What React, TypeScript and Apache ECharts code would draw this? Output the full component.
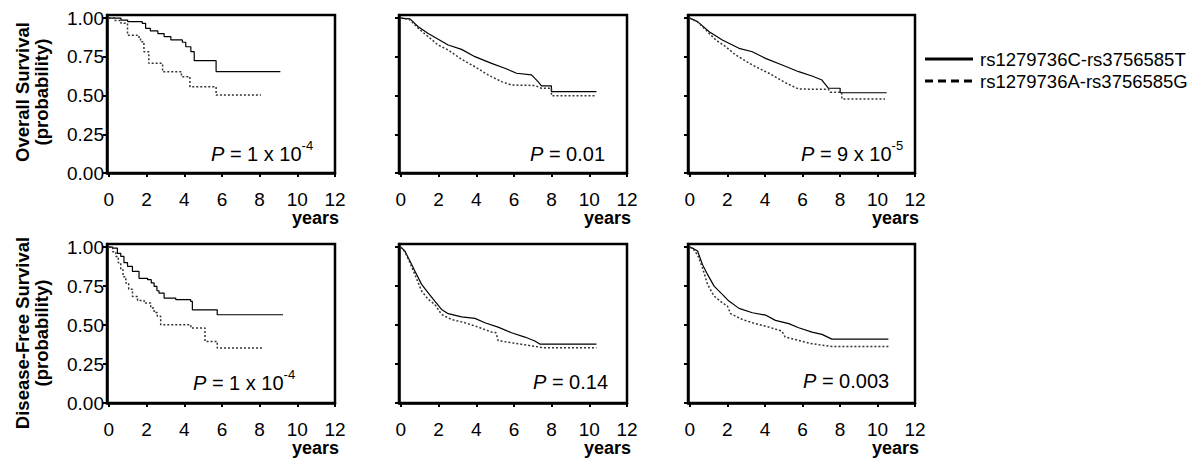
import React, { useEffect, useRef } from 'react';
import * as echarts from 'echarts';

// ---- data ----
const xTicks = [0, 2, 4, 6, 8, 10, 12];
const yTicks = [0, 0.25, 0.5, 0.75, 1.0];
const rowTitles = ['Overall Survival', 'Disease-Free Survival'];
const yUnit = '(probability)';
const xUnit = 'years';
const legendNames = ['rs1279736C-rs3756585T', 'rs1279736A-rs3756585G'];
const pMain = ['1 x 10', '0.01', '9 x 10', '1 x 10', '0.14', '0.003'];
const pExp = ['-4', '', '-5', '-4', '', ''];

// Overall survival, panel 1 (stepped Kaplan-Meier events: [years, probability])
const os1CT = [[0, 1], [0.64, 0.987], [1.0, 0.977], [1.77, 0.966], [1.95, 0.934], [2.2, 0.917], [2.6, 0.9], [2.93, 0.88], [3.29, 0.859], [3.9, 0.844], [4.08, 0.815], [4.35, 0.783], [4.53, 0.725], [5.69, 0.655], [9.1, 0.655]];
const os1AG = [[0, 1], [0.3, 0.985], [0.64, 0.966], [0.99, 0.89], [1.5, 0.878], [1.68, 0.848], [1.86, 0.783], [2.12, 0.708], [2.85, 0.654], [3.85, 0.622], [4.3, 0.557], [5.69, 0.503], [8.07, 0.503]];
// Overall survival, panel 2
const os2CT = [[0, 1], [0.48, 0.995], [0.92, 0.944], [1.45, 0.9], [1.98, 0.863], [2.51, 0.826], [3.22, 0.798], [3.93, 0.751], [4.81, 0.708], [5.52, 0.676], [6.14, 0.644], [6.93, 0.633], [7.28, 0.59], [7.46, 0.562], [7.99, 0.562], [7.99, 0.525], [10.38, 0.525]];
const os2AG = [[0, 1], [0.48, 0.99], [0.92, 0.934], [1.45, 0.88], [1.98, 0.826], [2.51, 0.794], [3.22, 0.734], [3.93, 0.686], [4.63, 0.633], [5.34, 0.59], [5.87, 0.568], [7.1, 0.565], [7.46, 0.547], [7.99, 0.547], [7.99, 0.499], [10.38, 0.499]];
// Overall survival, panel 3
const os3CT = [[0, 1], [0.41, 0.977], [1.03, 0.912], [1.73, 0.859], [2.62, 0.805], [3.33, 0.783], [4.03, 0.74], [4.92, 0.697], [5.8, 0.654], [6.51, 0.626], [7.04, 0.6], [7.39, 0.547], [8.01, 0.547], [8.01, 0.518], [10.49, 0.518]];
const os3AG = [[0, 1], [0.41, 0.975], [0.85, 0.923], [1.38, 0.859], [1.91, 0.815], [2.44, 0.762], [3.33, 0.697], [4.21, 0.644], [5.09, 0.583], [5.8, 0.542], [7.39, 0.54], [7.48, 0.521], [8.1, 0.521], [8.1, 0.478], [10.4, 0.478]];
// Disease-free survival, panel 4 (stepped)
const dfs1CT = [[0, 1], [0.2, 0.994], [0.45, 0.96], [0.63, 0.94], [0.8, 0.9], [0.99, 0.876], [1.25, 0.844], [1.6, 0.8], [2.05, 0.791], [2.25, 0.77], [2.4, 0.748], [2.55, 0.72], [2.66, 0.705], [2.93, 0.673], [3.55, 0.663], [4.34, 0.652], [4.43, 0.598], [5.75, 0.566], [9.24, 0.566]];
const dfs1AG = [[0, 1], [0.2, 0.97], [0.37, 0.94], [0.5, 0.9], [0.63, 0.855], [0.75, 0.81], [0.9, 0.77], [1.05, 0.73], [1.25, 0.684], [1.52, 0.658], [1.87, 0.641], [2.22, 0.609], [2.4, 0.58], [2.57, 0.556], [2.75, 0.502], [4.35, 0.481], [5.1, 0.395], [5.75, 0.353], [8.22, 0.353]];
// Disease-free survival, panel 5
const dfs2CT = [[0, 1], [0.21, 0.975], [0.48, 0.911], [0.74, 0.847], [1.1, 0.761], [1.45, 0.707], [1.8, 0.654], [2.16, 0.6], [2.51, 0.573], [3.22, 0.552], [3.93, 0.543], [4.46, 0.515], [5.16, 0.487], [5.87, 0.451], [6.58, 0.423], [7.11, 0.398], [7.37, 0.378], [10.38, 0.378]];
const dfs2AG = [[0, 1], [0.21, 0.97], [0.48, 0.9], [0.74, 0.825], [1.1, 0.718], [1.45, 0.665], [1.8, 0.632], [2.16, 0.568], [2.69, 0.536], [3.39, 0.515], [4.1, 0.487], [4.81, 0.455], [5.05, 0.45], [5.16, 0.4], [6.22, 0.38], [7.28, 0.36], [7.5, 0.355], [10.38, 0.355]];
// Disease-free survival, panel 6
const dfs3CT = [[0, 1], [0.2, 0.99], [0.41, 0.975], [0.67, 0.889], [0.94, 0.825], [1.29, 0.75], [1.73, 0.697], [2.08, 0.654], [2.62, 0.607], [3.33, 0.579], [4.03, 0.564], [4.56, 0.53], [5.27, 0.509], [5.8, 0.483], [6.51, 0.455], [7.04, 0.44], [7.57, 0.41], [10.58, 0.41]];
const dfs3AG = [[0, 1], [0.2, 0.985], [0.41, 0.95], [0.67, 0.868], [0.94, 0.761], [1.29, 0.686], [1.73, 0.643], [2.0, 0.622], [2.17, 0.573], [2.79, 0.536], [3.49, 0.509], [4.2, 0.487], [4.9, 0.462], [5.08, 0.423], [5.8, 0.402], [6.51, 0.38], [7.57, 0.363], [10.58, 0.363]];

const panels = [
  { ct: os1CT, ag: os1AG, stepped: true },
  { ct: os2CT, ag: os2AG, stepped: false },
  { ct: os3CT, ag: os3AG, stepped: false },
  { ct: dfs1CT, ag: dfs1AG, stepped: true },
  { ct: dfs2CT, ag: dfs2AG, stepped: false },
  { ct: dfs3CT, ag: dfs3AG, stepped: false },
];

// ---- layout ----
const FONT = '"Liberation Sans", Arial, Helvetica, sans-serif';
const cols = [{ left: 107, width: 228 }, { left: 399, width: 228 }, { left: 688, width: 227 }];
const rows = [{ top: 15, height: 158 }, { top: 244, height: 159 }];
const pPos = [[211, 154], [530, 154], [801, 154], [193, 383], [533, 382], [803, 381]];

function buildOption() {
  const grid: any[] = [];
  const xAxis: any[] = [];
  const yAxis: any[] = [];
  const series: any[] = [];
  const graphic: any[] = [];

  panels.forEach((p, i) => {
    const c = cols[i % 3];
    const r = rows[Math.floor(i / 3)];
    grid.push({ left: c.left, top: r.top, width: c.width, height: r.height, show: true, borderColor: '#000', borderWidth: 2.5, backgroundColor: 'transparent' });
    xAxis.push({
      gridIndex: i, type: 'value', min: -0.1, max: 12,
      axisLine: { show: true, onZero: false, lineStyle: { color: '#000', width: 2.5 } },
      axisTick: { show: true, length: 4, lineStyle: { color: '#000', width: 2 }, customValues: xTicks },
      axisLabel: { show: true, customValues: xTicks, fontSize: 19, color: '#000', fontFamily: FONT, margin: 17 },
      splitLine: { show: false },
    });
    yAxis.push({
      gridIndex: i, type: 'value', min: 0, max: 1.02,
      axisLine: { show: true, onZero: false, lineStyle: { color: '#000', width: 2.5 } },
      axisTick: { show: true, length: 4, lineStyle: { color: '#000', width: 2 }, customValues: yTicks },
      axisLabel: { show: i % 3 === 0, customValues: yTicks, formatter: (v: number) => v.toFixed(2), fontSize: 19, color: '#000', fontFamily: FONT, margin: 3 },
      splitLine: { show: false },
    });
    series.push({
      type: 'line', name: legendNames[0], xAxisIndex: i, yAxisIndex: i, data: p.ct,
      step: p.stepped ? 'end' : false, symbol: 'none', silent: true,
      lineStyle: { color: '#000', width: 1.2 },
    });
    series.push({
      type: 'line', name: legendNames[1], xAxisIndex: i, yAxisIndex: i, data: p.ag,
      step: p.stepped ? 'end' : false, symbol: 'none', silent: true,
      lineStyle: { color: '#333', width: 1.5, type: [2, 2] },
    });

    // "years" label
    graphic.push({
      type: 'text', x: c.left + c.width + 4, y: r.top + r.height + 45,
      style: { text: xUnit, fontSize: 18, fontWeight: 'bold', fontFamily: FONT, fill: '#000', textAlign: 'right', textVerticalAlign: 'middle' },
    });
    // P value
    const exp = pExp[i];
    graphic.push({
      type: 'text', x: pPos[i][0], y: pPos[i][1],
      style: {
        text: '{i|P}{n| = ' + pMain[i] + '}' + (exp ? '{s|' + exp + '}' : ''),
        fontSize: 20, fontFamily: FONT, fill: '#000', textAlign: 'left', textVerticalAlign: 'middle',
        rich: {
          i: { fontSize: 20, fontStyle: 'italic', fontFamily: FONT, lineHeight: 30, fill: '#000' },
          n: { fontSize: 20, fontFamily: FONT, lineHeight: 30, fill: '#000' },
          s: { fontSize: 13, fontFamily: FONT, lineHeight: 14, verticalAlign: 'top', fill: '#000' },
        },
      },
    });
  });

  // row titles
  const titleCenters = [92, 333];
  titleCenters.forEach((cy, k) => {
    graphic.push({
      type: 'text', x: 22, y: cy, rotation: Math.PI / 2,
      style: { text: rowTitles[k], fontSize: 18.5, fontWeight: 'bold', fontFamily: FONT, fill: '#000', textAlign: 'center', textVerticalAlign: 'middle' },
    });
    graphic.push({
      type: 'text', x: 41, y: cy, rotation: Math.PI / 2,
      style: { text: yUnit, fontSize: 18.5, fontWeight: 'bold', fontFamily: FONT, fill: '#000', textAlign: 'center', textVerticalAlign: 'middle' },
    });
  });

  // legend
  graphic.push({ type: 'line', shape: { x1: 925, y1: 59, x2: 973, y2: 59 }, style: { stroke: '#000', lineWidth: 3 } });
  graphic.push({ type: 'line', shape: { x1: 925, y1: 81, x2: 973, y2: 81 }, style: { stroke: '#000', lineWidth: 3, lineDash: [8, 5] } });
  graphic.push({ type: 'text', x: 980, y: 59, style: { text: legendNames[0], fontSize: 18.5, fontFamily: FONT, fill: '#000', textAlign: 'left', textVerticalAlign: 'middle' } });
  graphic.push({ type: 'text', x: 980, y: 81, style: { text: legendNames[1], fontSize: 18.5, fontFamily: FONT, fill: '#000', textAlign: 'left', textVerticalAlign: 'middle' } });

  return {
    animation: false,
    backgroundColor: '#fff',
    textStyle: { fontFamily: FONT },
    grid, xAxis, yAxis, series, graphic,
  };
}

export default function App() {
  const ref = useRef<HTMLDivElement>(null);
  useEffect(() => {
    if (!ref.current) return;
    const chart = echarts.init(ref.current, undefined, { renderer: 'svg' });
    chart.setOption(buildOption() as any);
    return () => chart.dispose();
  }, []);
  return <div ref={ref} style={{ position: 'absolute', left: 0, top: 0, width: 1200, height: 459 }} />;
}
